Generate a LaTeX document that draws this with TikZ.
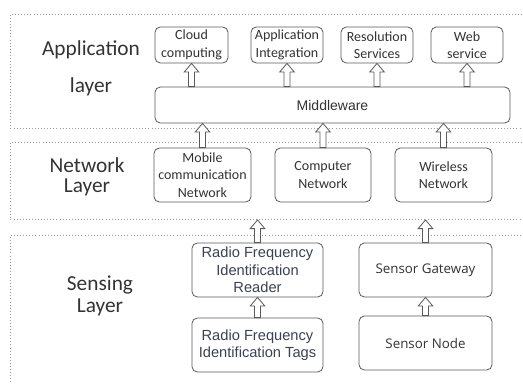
\documentclass[tikz,border=0pt]{standalone}
\usepackage{fontspec}
\setmainfont{Carlito}
\newfontfamily\arialfont{Liberation Sans}
\newfontfamily\opensans{Open Sans}
\usetikzlibrary{calc}

\definecolor{boxline}{HTML}{5A5A5A}
\definecolor{textgray}{HTML}{333333}
\definecolor{dotgray}{HTML}{9A9A9A}
\definecolor{rfidtext}{HTML}{3A4256}

\begin{document}
\begin{tikzpicture}[
    x=0.75pt, y=-0.75pt,
    box/.style={rectangle, draw=boxline, rounded corners=4pt, fill=white, line width=0.6pt,
        text=textgray, align=center, inner sep=1pt, font=\fontsize{10.5}{13}\selectfont},
    rfidbox/.style={box, text=rfidtext, font=\arialfont\fontsize{11}{13}\selectfont},
    sensorbox/.style={box, font=\opensans\fontsize{10}{12}\selectfont},
    layer/.style={rectangle, draw=dotgray, line width=0.7pt, dash pattern=on 0.7pt off 1.6pt,
        anchor=north west, minimum width=397.5pt, inner sep=0pt},
    title/.style={text=textgray, align=center, font=\fontsize{16}{15}\selectfont},
    uparrow/.style={draw=boxline, fill=white, line width=0.6pt,
        to path={let \p1=(\tikztostart), \p2=(\tikztotarget) in
            (\x1-2.2pt,\y1) -- (\x1-2.2pt,\y2-6.5pt) -- (\x1-5.5pt,\y2-6.5pt) -- (\x1,\y2)
            -- (\x1+5.5pt,\y2-6.5pt) -- (\x1+2.2pt,\y2-6.5pt) -- (\x1+2.2pt,\y1) -- cycle}}
]
    \clip (0,0) rectangle (523,383);

    % layer frames
    \node[layer, minimum height=85.5pt] (appframe) at (10,14) {};
    \node[layer, minimum height=57.75pt] (netframe) at (10,142) {};
    \node[layer, minimum height=123.75pt] (senseframe) at (10,235) {};

    \node[title] (applabel) at (91,68) {Application\\[12.75pt]layer};
    \node[title] (netlabel) at (87,177) {Network\\Layer};
    \node[title] (senselabel) at (100,296) {Sensing\\[1.5pt]Layer};

    % application layer
    \node[box, minimum width=54.75pt, minimum height=27pt] (cloud) at (191.5,45) {Cloud\\computing};
    \node[box, minimum width=54pt, minimum height=27pt] (appint) at (287,45) {Application\\Integration};
    \node[box, minimum width=54pt, minimum height=27pt] (resol) at (377,45) {Resolution\\Services};
    \node[box, minimum width=54pt, minimum height=27pt] (websvc) at (467,45) {Web\\service};
    \node[box, font=\arialfont\fontsize{10.5}{13}\selectfont,
        minimum width=266.25pt, minimum height=27pt] (mw) at (332.5,105) {Middleware};

    % network layer
    \node[box, minimum width=72.75pt, minimum height=40.5pt] (mobile) at (202.5,175) {Mobile\\communication\\Network};
    \node[box, minimum width=72pt, minimum height=40.5pt] (computer) at (323,175) {Computer\\Network};
    \node[box, minimum width=72.75pt, minimum height=40.5pt] (wireless) at (443.5,175) {Wireless\\Network};

    % sensing layer
    \node[rfidbox, minimum width=98.25pt, minimum height=40.5pt] (reader) at (257.5,270) {Radio Frequency\\Identification\\Reader};
    \node[rfidbox, minimum width=98.25pt, minimum height=40.5pt] (tags) at (257.5,345) {Radio Frequency\\Identification Tags};
    \node[sensorbox, minimum width=99.75pt, minimum height=40.5pt] (gateway) at (425.5,270) {Sensor Gateway};
    \node[sensorbox, minimum width=99.75pt, minimum height=40.5pt] (sensnode) at (425.5,343) {Sensor Node};

    % hollow arrows
    \foreach \b in {cloud, appint, resol, websvc}
        \path[uparrow] (\b.south |- mw.north) to (\b.south);
    \foreach \b in {mobile, computer, wireless}
        \path[uparrow] (\b.north) to (\b.north |- mw.south);
    \path[uparrow] (reader.north) to (reader.north |- netframe.south);
    \path[uparrow] (gateway.north) to (gateway.north |- netframe.south);
    \path[uparrow] (tags.north) to (reader.south);
    \path[uparrow] (sensnode.north) to (gateway.south);
\end{tikzpicture}
\end{document}
